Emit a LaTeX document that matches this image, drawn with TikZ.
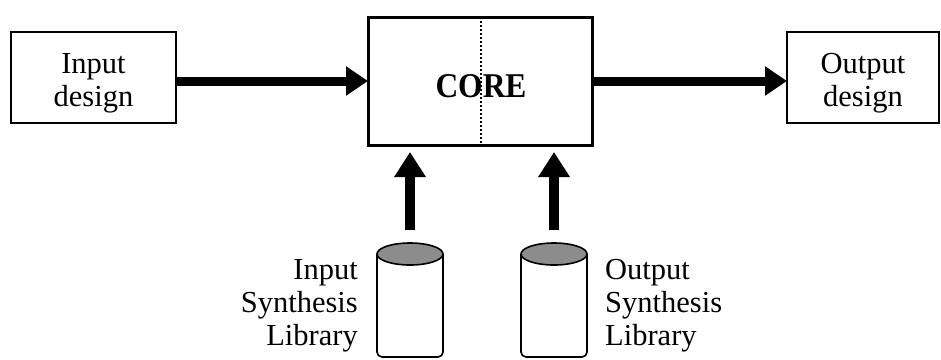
\documentclass[tikz,border=0pt]{standalone}
\usepackage{fontspec}
\setmainfont{Liberation Serif}
\usetikzlibrary{arrows.meta}

\tikzset{
  txt/.style={font=\fontsize{30.5}{33}\selectfont, inner sep=0pt},
  blockbox/.style={draw, line width=1.6pt, fill=white},
  corebox/.style={draw, line width=3pt},
  bigarrow/.style={line width=9pt, -{Triangle[width=28pt,length=22pt]}},
  uparrow/.style={line width=10pt, -{Triangle[width=30pt,length=25pt]}},
  drum/.style={line width=1.6pt, rounded corners=5pt},
  drumtop/.style={line width=1.6pt, fill=black!45},
}

\begin{document}
\begin{tikzpicture}[x=1pt, y=-1pt]
\useasboundingbox (0,0) rectangle (941,359);

% side boxes
\draw[blockbox] (11,32) rectangle (176,123);
\node[txt, align=center, anchor=base] (indesign) at (93.5,106) {Input\\design};
\coordinate (inR) at (176,81);

\draw[blockbox] (787,32) rectangle (939,123);
\node[txt, align=center, anchor=base] (outdesign) at (863,106) {Output\\design};
\coordinate (outL) at (787,81);

% central block, split by a dotted line
\draw[corebox] (368,17) rectangle (592,145);
\coordinate (coreL) at (368,81);
\coordinate (coreR) at (592,81);
\draw[line width=2pt, dash pattern=on 2pt off 2pt] (481,17) -- (481,145);
\node[inner sep=0pt] (core) at (481,86.5)
  {\resizebox{91pt}{23pt}{\bfseries CORE}};

% main data flow
\draw[bigarrow] (inR) -- (coreL);
\draw[bigarrow] (coreR) -- (outL);

% library drums
\draw[drum] (377,254) -- (377,357) -- (443,357) -- (443,254);
\draw[drumtop] (410,254) ellipse [x radius=33, y radius=11];
\coordinate (inlibtop) at (410,230);
\coordinate (inlibend) at (410,152);

\draw[drum] (521,254) -- (521,357) -- (587,357) -- (587,254);
\draw[drumtop] (554,254) ellipse [x radius=33, y radius=11];
\coordinate (outlibtop) at (554,230);
\coordinate (outlibend) at (554,152);

\draw[uparrow] (inlibtop) -- (inlibend);
\draw[uparrow] (outlibtop) -- (outlibend);

% library labels (anchored on the baseline of the last line)
\node[txt, align=right, anchor=base east] (inlib) at (358,345)
  {Input\\Synthesis\\Library};
\node[txt, align=left, anchor=base west] (outlib) at (605,345)
  {Output\\Synthesis\\Library};
\end{tikzpicture}
\end{document}
